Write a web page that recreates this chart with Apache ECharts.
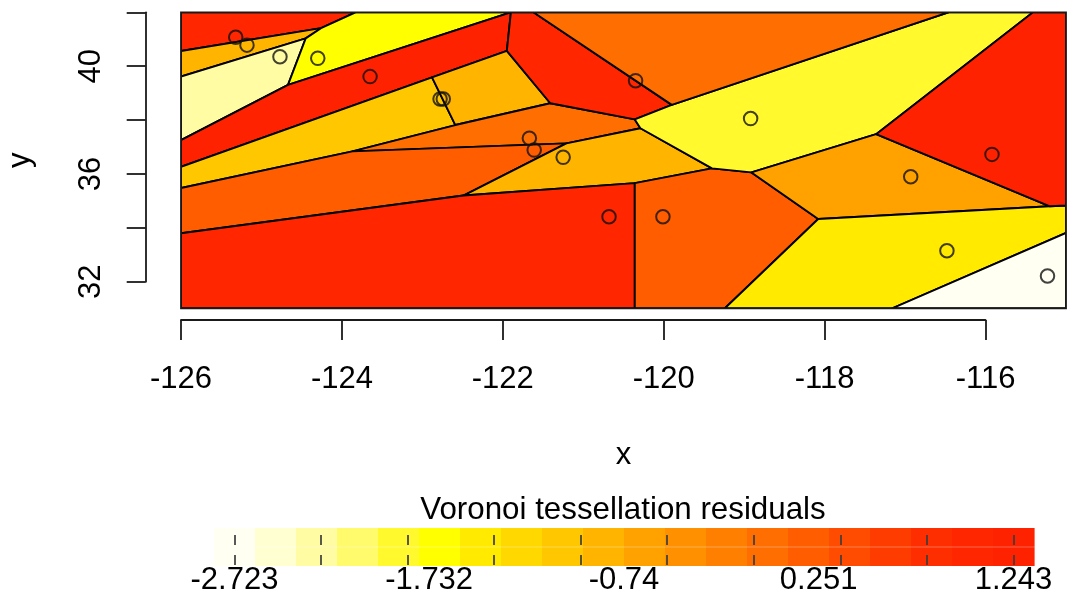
<!DOCTYPE html>
<html>
<head>
<meta charset="utf-8">
<script src="https://cdn.jsdelivr.net/npm/echarts@6/dist/echarts.min.js"></script>
<style>
  html, body { margin: 0; padding: 0; background: #ffffff; }
  #chart { width: 1070px; height: 603px; }
</style>
</head>
<body>
<div id="chart"></div>
<script>
const FONT = "'Liberation Sans', Arial, Helvetica, sans-serif";

// Station locations (longitude, latitude)
const siteX = [-125.32, -125.18, -124.77, -124.30, -123.65, -122.78, -122.74, -121.67, -121.61,
               -121.25, -120.68, -120.35, -120.01, -118.92, -116.93, -116.48, -115.92, -115.23];
const siteY = [41.07, 40.78, 40.35, 40.29, 39.61, 38.78, 38.78, 37.32, 36.88,
               36.61, 34.40, 39.46, 34.40, 38.05, 35.89, 33.14, 36.72, 32.20];

// Tessellation cells, clipped to the study window: polygon vertices [x, y]
const cellVertices = [
  [[-126, 42], [-123.83, 42], [-124.26, 41.41], [-126, 40.56]],
  [[-126, 40.56], [-124.26, 41.41], [-124.45, 41.03], [-126, 39.61]],
  [[-126, 39.61], [-124.45, 41.03], [-124.67, 39.30], [-126, 37.25]],
  [[-123.83, 42], [-121.90, 42], [-124.67, 39.30], [-124.45, 41.03], [-124.26, 41.41]],
  [[-126, 37.25], [-124.67, 39.30], [-121.90, 42], [-121.95, 40.57], [-122.88, 39.58], [-126, 36.26]],
  [[-126, 36.26], [-122.88, 39.58], [-122.59, 37.81], [-123.87, 36.83], [-126, 35.47]],
  [[-122.88, 39.58], [-121.95, 40.57], [-121.41, 38.62], [-122.59, 37.81]],
  [[-123.87, 36.83], [-122.59, 37.81], [-121.41, 38.62], [-120.36, 38.02], [-120.29, 37.69], [-121.21, 37.13]],
  [[-126, 35.47], [-123.87, 36.83], [-121.21, 37.13], [-122.49, 35.19], [-126, 33.79]],
  [[-122.49, 35.19], [-121.21, 37.13], [-120.29, 37.69], [-119.40, 36.20], [-120.36, 35.65]],
  [[-126, 33.79], [-122.49, 35.19], [-120.36, 35.65], [-120.36, 31], [-126, 31]],
  [[-121.90, 42], [-121.62, 42], [-119.90, 38.56], [-120.36, 38.02], [-121.41, 38.62], [-121.95, 40.57]],
  [[-120.36, 35.65], [-119.40, 36.20], [-118.91, 36.05], [-118.08, 34.32], [-119.24, 31], [-120.36, 31]],
  [[-120.36, 38.02], [-119.90, 38.56], [-116.46, 42], [-115.41, 42], [-117.36, 37.47], [-118.91, 36.05], [-119.40, 36.20], [-120.29, 37.69]],
  [[-118.91, 36.05], [-117.36, 37.47], [-115.20, 34.79], [-118.08, 34.32]],
  [[-118.08, 34.32], [-115.20, 34.79], [-115, 34.82], [-115, 33.80], [-117.16, 31], [-119.24, 31]],
  [[-115.41, 42], [-115, 42], [-115, 34.82], [-115.20, 34.79], [-117.36, 37.47]],
  [[-115, 33.80], [-115, 31], [-117.16, 31]],
  [[-121.62, 42], [-116.46, 42], [-119.90, 38.56]]
];
// Residual carried by each cell (same order as cellVertices)
const cellResiduals = [1.12, -0.87, -2.31, -1.70, 1.243, -1.10, -0.80, -0.03, 0.17, -0.90,
                       1.05, 0.98, 0.24, -1.86, -0.55, -1.45, 1.16, -2.723, 0.02];

// Axis ticks
const xTicks = [-126, -124, -122, -120, -118, -116];
const yTicks = [32, 34, 36, 38, 40, 42];
const yTickLabels = [32, 36, 40];

// Colour key
const residualMin = -2.723;
const residualMax = 1.243;
const keyColors = ['#FFFFF2', '#FFFFD2', '#FFFCA4', '#FFFB6C', '#FFF92E', '#FFFF00', '#FFEA00', '#FFD800',
                   '#FFC700', '#FFB500', '#FFA200', '#FF9000', '#FF7F00', '#FF6E00', '#FF5D00', '#FF4C00',
                   '#FF3C00', '#FF2E00', '#FF2600', '#FF2200'];
const keyLabels = [-2.723, -1.732, -0.74, 0.251, 1.243];
const keyTicks = [-2.723, -2.282, -1.842, -1.401, -0.960, -0.520, -0.079, 0.362, 0.802, 1.243];

const keyStep = (residualMax - residualMin) / (keyColors.length - 1);
function colorFor(v) {
  const k = Math.round((v - residualMin) / keyStep);
  return keyColors[Math.max(0, Math.min(keyColors.length - 1, k))];
}

const ink = '#1a1a1a';
const labelFont = { color: '#000', fontFamily: FONT, fontSize: 31 };
const fixedGrid = { containLabel: false, outerBoundsMode: 'none' };

const chart = echarts.init(document.getElementById('chart'), null, { renderer: 'canvas' });

chart.setOption({
  animation: false,
  backgroundColor: '#ffffff',
  textStyle: { fontFamily: FONT },
  grid: [
    Object.assign({ left: 181, top: 12.3, width: 885, height: 296, show: true, z: 10,
      backgroundColor: 'rgba(0,0,0,0)', borderColor: ink, borderWidth: 1.8 }, fixedGrid),
    Object.assign({ left: 181, top: 319, width: 804.5, height: 1 }, fixedGrid),
    Object.assign({ left: 145.7, top: 12.3, width: 1, height: 269.4 }, fixedGrid),
    Object.assign({ left: 214, top: 528, width: 820, height: 38 }, fixedGrid)
  ],
  xAxis: [
    { gridIndex: 0, type: 'value', min: -126, max: -115,
      axisLine: { show: false }, axisTick: { show: false }, axisLabel: { show: false },
      splitLine: { show: false },
      name: 'x', nameLocation: 'middle', nameGap: 132,
      nameTextStyle: labelFont },
    { gridIndex: 1, type: 'value', min: -126, max: -116, interval: 2, position: 'bottom',
      axisLine: { lineStyle: { color: ink, width: 1.8 } },
      axisTick: { customValues: xTicks, length: 20, lineStyle: { color: ink, width: 1.8 } },
      axisLabel: Object.assign({ customValues: xTicks, margin: 59, verticalAlign: 'middle', align: 'center' }, labelFont),
      splitLine: { show: false } },
    { gridIndex: 2, type: 'value', show: false, min: 0, max: 1 },
    { gridIndex: 3, type: 'value', z: 5,
      min: residualMin - keyStep / 2, max: residualMax + keyStep / 2,
      axisLine: { show: false },
      axisTick: { customValues: keyTicks, inside: true, length: 38,
                  lineStyle: { color: 'rgba(60,60,60,0.85)', width: 2, type: [10, 10], dashOffset: 19 } },
      axisLabel: Object.assign({ customValues: keyLabels, margin: 14.5, verticalAlign: 'middle', align: 'center',
                                 formatter: v => String(v) }, labelFont),
      splitLine: { show: false } }
  ],
  yAxis: [
    { gridIndex: 0, type: 'value', min: 31, max: 42,
      axisLine: { show: false }, axisTick: { show: false }, axisLabel: { show: false },
      splitLine: { show: false },
      name: 'y', nameLocation: 'middle', nameGap: 145,
      nameTextStyle: labelFont },
    { gridIndex: 1, type: 'value', show: false, min: 0, max: 1 },
    { gridIndex: 2, type: 'value', min: 32, max: 42, interval: 2, position: 'left',
      axisLine: { lineStyle: { color: ink, width: 1.8 } },
      axisTick: { customValues: yTicks, length: 19, lineStyle: { color: ink, width: 1.8 } },
      axisLabel: Object.assign({ customValues: yTickLabels, rotate: 90, margin: 54.2,
                                 verticalAlign: 'middle', align: 'center' }, labelFont),
      splitLine: { show: false } },
    { gridIndex: 3, type: 'value', show: false, min: 0, max: 1 }
  ],
  graphic: [
    { type: 'text', x: 623, y: 510.5, z: 20,
      style: { text: 'Voronoi tessellation residuals', fill: '#000', font: '31.3px ' + FONT,
               textAlign: 'center', textVerticalAlign: 'middle' } }
  ],
  series: [
    {
      type: 'custom', name: 'cells', xAxisIndex: 0, yAxisIndex: 0, clip: true, silent: true, z: 2,
      data: cellResiduals.map((v, i) => [cellVertices[i][0][0], cellVertices[i][0][1], v]),
      renderItem: (params, api) => {
        const i = params.dataIndex;
        const pts = cellVertices[i].map(p => api.coord(p));
        return {
          type: 'polygon',
          shape: { points: pts },
          style: { fill: colorFor(cellResiduals[i]), stroke: '#000', lineWidth: 1.9, lineJoin: 'round' }
        };
      }
    },
    {
      type: 'scatter', name: 'sites', xAxisIndex: 0, yAxisIndex: 0, silent: true, z: 4,
      symbol: 'circle', symbolSize: 13.5,
      itemStyle: { color: 'rgba(0,0,0,0)', borderColor: '#111', borderWidth: 2 },
      data: siteX.map((x, i) => [x, siteY[i]])
    },
    {
      type: 'custom', name: 'key', xAxisIndex: 3, yAxisIndex: 3, silent: true, z: 2,
      data: keyColors.map((c, i) => [residualMin + i * keyStep, 0]),
      renderItem: (params, api) => {
        const v = api.value(0);
        const a = api.coord([v - keyStep / 2, 0]);
        const b = api.coord([v + keyStep / 2, 1]);
        const m = api.coord([v, 0.5]);
        return {
          type: 'group',
          children: [
            { type: 'rect', shape: { x: a[0], y: b[1], width: b[0] - a[0] + 0.6, height: a[1] - b[1] },
              style: { fill: keyColors[params.dataIndex] } },
            { type: 'line', shape: { x1: a[0], y1: m[1], x2: b[0] + 0.6, y2: m[1] },
              style: { stroke: 'rgba(255,255,255,0.3)', lineWidth: 1.2 } }
          ]
        };
      }
    }
  ]
});
</script>
</body>
</html>
